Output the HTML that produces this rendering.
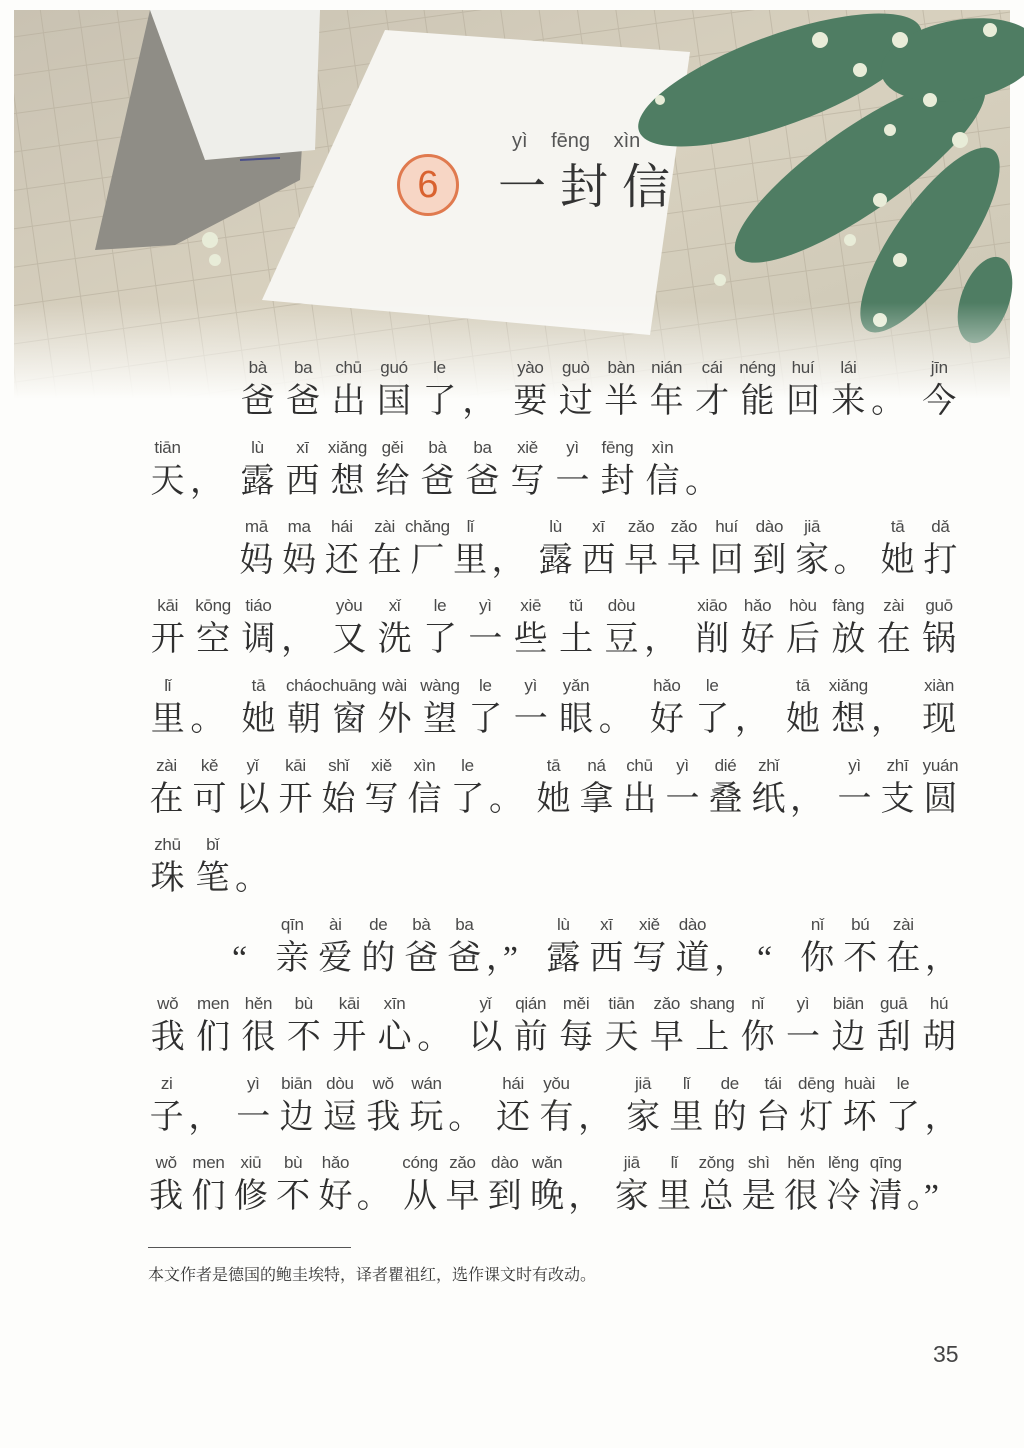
<!DOCTYPE html>
<html lang="zh">
<head>
<meta charset="utf-8">
<style>
  html,body{margin:0;padding:0;}
  body{width:1024px;height:1448px;position:relative;overflow:hidden;background:#fdfdfb;
    font-family:"Liberation Sans","Noto Sans CJK SC",sans-serif;}
  #illus{position:absolute;left:0;top:0;width:1024px;height:420px;}
  .line{position:absolute;display:flex;}
  .cell{display:flex;flex-direction:column;align-items:center;flex:none;}
  .py{height:24px;font-size:17px;color:#4a4a4a;white-space:nowrap;line-height:24px;letter-spacing:-0.3px;}
  .hz{height:44px;font-size:34px;line-height:44px;color:#2f2f2f;
    font-family:"Liberation Serif","Noto Serif CJK SC",serif;}
  .punct .hz{align-self:flex-start;}
  #title-py{position:absolute;top:130px;left:512px;font-size:20px;color:#555;word-spacing:18px;}
  #title-num{position:absolute;left:397px;top:154px;width:62px;height:62px;border-radius:50%;
    border:3px solid #e07a4f;background:#f7d6c5;box-sizing:border-box;text-align:center;
    line-height:56px;font-size:38px;color:#d9622f;font-family:"Liberation Sans",sans-serif;}
  #title{position:absolute;left:498px;top:158px;font-size:48px;letter-spacing:14px;color:#333;
    font-family:"Liberation Serif","Noto Serif CJK SC",serif;line-height:60px;}
  #rule{position:absolute;left:148px;top:1247px;width:203px;height:1px;background:#555;}
  #foot{position:absolute;left:148px;top:1262px;font-size:16px;color:#333;
    font-family:"Liberation Serif","Noto Serif CJK SC",serif;}
  #pnum{position:absolute;left:933px;top:1341px;font-size:23px;color:#444;}
</style>
</head>
<body>
<svg id="illus" width="1024" height="420" viewBox="0 0 1024 420">
  <defs>
    <linearGradient id="fade" x1="0" y1="0" x2="0" y2="1">
      <stop offset="0" stop-color="#fdfdfb" stop-opacity="0"/>
      <stop offset="0.72" stop-color="#fdfdfb" stop-opacity="0"/>
      <stop offset="0.95" stop-color="#fdfdfb" stop-opacity="1"/>
    </linearGradient>
    <linearGradient id="table" x1="0" y1="0" x2="1" y2="1">
      <stop offset="0" stop-color="#c9c2b2"/>
      <stop offset="0.5" stop-color="#d8d1bf"/>
      <stop offset="1" stop-color="#cbc6b4"/>
    </linearGradient>
    <pattern id="grid" width="38" height="38" patternUnits="userSpaceOnUse" patternTransform="rotate(-8)">
      <path d="M0 0H38M0 0V38" stroke="#b5ad9b" stroke-width="2" fill="none" opacity="0.6"/>
    </pattern>
  </defs>
  <rect x="14" y="10" width="996" height="400" fill="url(#table)"/>
  <rect x="14" y="10" width="996" height="400" fill="url(#grid)"/>
  <polygon points="95,250 150,10 310,10 300,180 175,245" fill="#8f8d86"/>
  <polygon points="150,10 320,10 315,150 205,160" fill="#eeeeea"/>
  <line x1="240" y1="160" x2="280" y2="158" stroke="#4a4f8a" stroke-width="2"/>
  <polygon points="385,30 690,52 650,335 262,300" fill="#f6f5f1"/>
  <g fill="#4f7d63">
    <ellipse cx="780" cy="80" rx="150" ry="45" transform="rotate(-20 780 80)"/>
    <ellipse cx="860" cy="170" rx="150" ry="42" transform="rotate(-35 860 170)"/>
    <ellipse cx="930" cy="240" rx="110" ry="36" transform="rotate(-55 930 240)"/>
    <ellipse cx="960" cy="60" rx="80" ry="40" transform="rotate(-10 960 60)"/>
    <ellipse cx="985" cy="300" rx="45" ry="24" transform="rotate(-70 985 300)"/>
  </g>
  <g fill="#e8ecd8">
    <circle cx="820" cy="40" r="8"/><circle cx="860" cy="70" r="7"/><circle cx="900" cy="40" r="8"/>
    <circle cx="930" cy="100" r="7"/><circle cx="960" cy="140" r="8"/><circle cx="890" cy="130" r="6"/>
    <circle cx="880" cy="200" r="7"/><circle cx="850" cy="240" r="6"/><circle cx="900" cy="260" r="7"/>
    <circle cx="880" cy="320" r="7"/><circle cx="720" cy="280" r="6"/><circle cx="210" cy="240" r="8"/>
    <circle cx="215" cy="260" r="6"/><circle cx="660" cy="100" r="5"/><circle cx="990" cy="30" r="7"/>
  </g>
  <rect x="0" y="0" width="1024" height="420" fill="url(#fade)"/>
</svg>

<div id="title-py">yì fēng xìn</div>
<div id="title-num">6</div>
<div id="title">一封信</div>

<div id="text"></div>

<div id="rule"></div>
<div id="foot">本文作者是德国的鲍圭埃特，译者瞿祖红，选作课文时有改动。</div>
<div id="pnum">35</div>

<script>
const lineTops = [356,436,515,594,674,754,833,913,992,1072,1151];
const lineLefts = [235,145,235,145,145,145,145,232,145,145,145];
const lineRights = [962,0,962,962,962,962,0,968,962,968,962];
const lines = [
 [["爸","bà"],["爸","ba"],["出","chū"],["国","guó"],["了","le"],["，",""],["要","yào"],["过","guò"],["半","bàn"],["年","nián"],["才","cái"],["能","néng"],["回","huí"],["来","lái"],["。",""],["今","jīn"]],
 [["天","tiān"],["，",""],["露","lù"],["西","xī"],["想","xiǎng"],["给","gěi"],["爸","bà"],["爸","ba"],["写","xiě"],["一","yì"],["封","fēng"],["信","xìn"],["。",""]],
 [["妈","mā"],["妈","ma"],["还","hái"],["在","zài"],["厂","chǎng"],["里","lǐ"],["，",""],["露","lù"],["西","xī"],["早","zǎo"],["早","zǎo"],["回","huí"],["到","dào"],["家","jiā"],["。",""],["她","tā"],["打","dǎ"]],
 [["开","kāi"],["空","kōng"],["调","tiáo"],["，",""],["又","yòu"],["洗","xǐ"],["了","le"],["一","yì"],["些","xiē"],["土","tǔ"],["豆","dòu"],["，",""],["削","xiāo"],["好","hǎo"],["后","hòu"],["放","fàng"],["在","zài"],["锅","guō"]],
 [["里","lǐ"],["。",""],["她","tā"],["朝","cháo"],["窗","chuāng"],["外","wài"],["望","wàng"],["了","le"],["一","yì"],["眼","yǎn"],["。",""],["好","hǎo"],["了","le"],["，",""],["她","tā"],["想","xiǎng"],["，",""],["现","xiàn"]],
 [["在","zài"],["可","kě"],["以","yǐ"],["开","kāi"],["始","shǐ"],["写","xiě"],["信","xìn"],["了","le"],["。",""],["她","tā"],["拿","ná"],["出","chū"],["一","yì"],["叠","dié"],["纸","zhǐ"],["，",""],["一","yì"],["支","zhī"],["圆","yuán"]],
 [["珠","zhū"],["笔","bǐ"],["。",""]],
 [["“",""],["亲","qīn"],["爱","ài"],["的","de"],["爸","bà"],["爸","ba"],["，”",""],["露","lù"],["西","xī"],["写","xiě"],["道","dào"],["，",""],["“",""],["你","nǐ"],["不","bú"],["在","zài"],["，",""]],
 [["我","wǒ"],["们","men"],["很","hěn"],["不","bù"],["开","kāi"],["心","xīn"],["。",""],["以","yǐ"],["前","qián"],["每","měi"],["天","tiān"],["早","zǎo"],["上","shang"],["你","nǐ"],["一","yì"],["边","biān"],["刮","guā"],["胡","hú"]],
 [["子","zi"],["，",""],["一","yì"],["边","biān"],["逗","dòu"],["我","wǒ"],["玩","wán"],["。",""],["还","hái"],["有","yǒu"],["，",""],["家","jiā"],["里","lǐ"],["的","de"],["台","tái"],["灯","dēng"],["坏","huài"],["了","le"],["，",""]],
 [["我","wǒ"],["们","men"],["修","xiū"],["不","bù"],["好","hǎo"],["。",""],["从","cóng"],["早","zǎo"],["到","dào"],["晚","wǎn"],["，",""],["家","jiā"],["里","lǐ"],["总","zǒng"],["是","shì"],["很","hěn"],["冷","lěng"],["清","qīng"],["。”",""]]
];
function cellWeight(ch) {
  if (ch.length > 1) return 1.3;
  if (ch === '“') return 0.9;
  return 1;
}
const host = document.getElementById('text');
lines.forEach((ln, i) => {
  const row = document.createElement('div');
  row.className = 'line';
  
  
  row.style.left = lineLefts[i] + 'px';
  row.style.top = lineTops[i] + 'px';
  let total = 0;
  ln.forEach(([ch]) => { total += cellWeight(ch); });
  const unit = lineRights[i] ? (lineRights[i] - lineLefts[i]) / total : 45;
  ln.forEach(([ch, py]) => {
    const c = document.createElement('div');
    c.className = 'cell' + (py ? '' : ' punct');
    
    
    c.style.width = (unit * cellWeight(ch)) + 'px';
    const p = document.createElement('div');
    p.className = 'py';
    
    
    p.textContent = py;
    const h = document.createElement('div');
    h.className = 'hz';
    
    
    h.textContent = ch;
    c.appendChild(p); c.appendChild(h);
    row.appendChild(c);
  });
  host.appendChild(row);
});
</script>
</body>
</html>
